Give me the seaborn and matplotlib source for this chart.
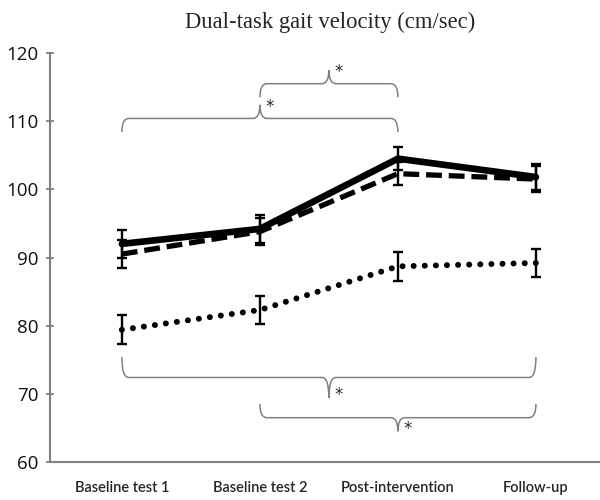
import matplotlib
matplotlib.use("Agg")
import matplotlib.pyplot as plt
from matplotlib.path import Path
from matplotlib.patches import PathPatch
import seaborn as sns
import pandas as pd

# data
sessions = ["Baseline test 1", "Baseline test 2", "Post-intervention", "Follow-up"]
group_solid = [92.0, 94.2, 104.5, 101.8]
group_solid_err = [2.0, 2.0, 1.7, 1.9]
group_dashed = [90.5, 93.8, 102.3, 101.5]
group_dashed_err = [2.0, 2.0, 1.7, 1.9]
group_dotted = [79.4, 82.3, 88.7, 89.2]
group_dotted_err = [2.1, 2.0, 2.1, 2.0]

# significance brackets: (from, to, level, end height, cusp height)
brackets = [(0, 2, 110.4, -2.0, 2.0),
            (1, 2, 115.5, -2.0, 2.0),
            (0, 3, 72.4, 3.0, -3.0),
            (1, 3, 66.5, 2.0, -2.0)]

sns.set_style("white")
fig = plt.figure(figsize=(6, 5), dpi=100)
ax = fig.add_axes([0.083, 0.076, 0.917, 0.818])

df = pd.DataFrame({
    "session": list(range(4)) * 3,
    "velocity": group_dotted + group_dashed + group_solid,
    "group": ["dotted"] * 4 + ["dashed"] * 4 + ["solid"] * 4,
})

styles = {"dotted": dict(ls=(0, (0.01, 1.85)), lw=4.3, err=group_dotted_err),
          "dashed": dict(ls=(0, (3.0, 1.3)), lw=3.8, err=group_dashed_err),
          "solid": dict(ls="-", lw=4.8, err=group_solid_err)}

for name, st in styles.items():
    sub = df[df["group"] == name]
    sns.lineplot(data=sub, x="session", y="velocity", ax=ax, color="black",
                 linestyle=st["ls"], linewidth=st["lw"], solid_capstyle="round",
                 dash_capstyle="round" if name == "dotted" else "butt",
                 legend=False, zorder=3)
    ax.errorbar(sub["session"], sub["velocity"], yerr=st["err"], fmt="none",
                ecolor="black", elinewidth=1.7, capsize=3.8, capthick=1.7, zorder=4)

# curly brackets
rx = 0.05
for x0, x1, y, eh, ch in brackets:
    xm = (x0 + x1) / 2
    verts = [(x0, y + eh), (x0, y), (x0 + rx, y), (xm - rx, y), (xm, y), (xm, y + ch),
             (xm, y + ch), (xm, y), (xm + rx, y), (x1 - rx, y), (x1, y), (x1, y + eh)]
    codes = [Path.MOVETO, Path.CURVE3, Path.CURVE3, Path.LINETO, Path.CURVE3, Path.CURVE3,
             Path.MOVETO, Path.CURVE3, Path.CURVE3, Path.LINETO, Path.CURVE3, Path.CURVE3]
    ax.add_patch(PathPatch(Path(verts, codes), fill=False, edgecolor="#808080", lw=1.1))
    ax.text(xm + 0.07, y + ch * 0.85, "*", fontsize=12, ha="center", va="center",
            family="DejaVu Sans")

ax.set_xlim(-0.522, 3.464)
ax.set_ylim(60, 120)
ax.set_yticks([60, 70, 80, 90, 100, 110, 120])
ax.set_xticks(range(4))
ax.set_xticklabels(sessions, family="Lato", fontsize=10.5, fontweight="semibold")
for lab in ax.get_yticklabels():
    lab.set_family("Open Sans")
    lab.set_fontsize(13.5)
    lab.set_color("#111111")
ax.tick_params(axis="y", direction="inout", length=6, width=1.3, color="#808080",
               left=True, pad=5)
ax.tick_params(axis="x", length=0, pad=14)
ax.set_xlabel("")
ax.set_ylabel("")
for s in ["top", "right"]:
    ax.spines[s].set_visible(False)
for s in ["left", "bottom"]:
    ax.spines[s].set_color("#808080")
    ax.spines[s].set_linewidth(1.5)

fig.text(0.55, 0.955, "Dual-task gait velocity (cm/sec)", family="Liberation Serif",
         fontsize=16.3, ha="center", va="center")

fig.savefig("out.png", dpi=100)
